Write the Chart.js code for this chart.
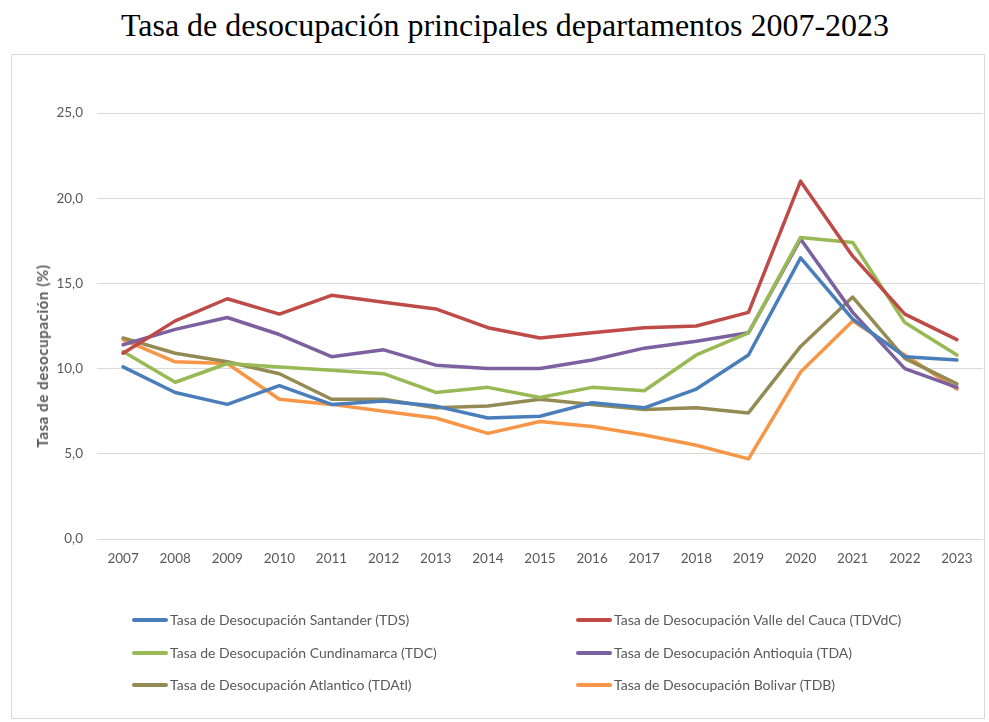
<!DOCTYPE html>
<html lang="es">
<head>
<meta charset="utf-8">
<title>Tasa de desocupación principales departamentos 2007-2023</title>
<script src="https://cdn.jsdelivr.net/npm/chart.js@4.4.0/dist/chart.umd.min.js"></script>
<style>
    body { margin: 0; background: #fff; width: 989px; height: 722px; position: relative; overflow: hidden; }
    #titulo {
        position: absolute; left: 0; top: 7px; width: 1010px; text-align: center;
        font-family: "Liberation Serif", "Times New Roman", serif; font-size: 32px; color: #000;
    }
    #marco {
        position: absolute; left: 11px; top: 54px; width: 974px; height: 665px;
        border: 1px solid #d9d9d9; box-sizing: border-box;
    }
    #grafico { position: absolute; left: 0; top: 0; }
    #titulo-y {
        position: absolute; left: 42px; top: 356px; transform: translate(-50%, -50%) rotate(-90deg);
        font-family: Lato, sans-serif; font-weight: bold; font-size: 15px; letter-spacing: 0.6px;
        color: #595959; white-space: nowrap;
    }
    .leyenda {
        position: absolute; font-family: Lato, sans-serif; font-size: 14px; color: #595959;
        display: flex; align-items: center; white-space: nowrap;
    }
    .leyenda span.linea { display: inline-block; width: 36px; height: 4px; border-radius: 2px; margin-right: 2px; }
</style>
</head>
<body>
<div id="titulo">Tasa de desocupación principales departamentos 2007-2023</div>
<div id="marco"></div>
<canvas id="grafico" width="989" height="722"></canvas>
<div id="titulo-y">Tasa de desocupación (%)</div>
<div id="leyendas"></div>
<script>
// Datos del gráfico
const anios = ['2007', '2008', '2009', '2010', '2011', '2012', '2013', '2014', '2015',
               '2016', '2017', '2018', '2019', '2020', '2021', '2022', '2023'];
const santander     = [10.1, 8.6, 7.9, 9.0, 7.9, 8.1, 7.8, 7.1, 7.2, 8.0, 7.7, 8.8, 10.8, 16.5, 12.9, 10.7, 10.5];
const valle         = [10.9, 12.8, 14.1, 13.2, 14.3, 13.9, 13.5, 12.4, 11.8, 12.1, 12.4, 12.5, 13.3, 21.0, 16.6, 13.2, 11.7];
const cundinamarca  = [11.0, 9.2, 10.3, 10.1, 9.9, 9.7, 8.6, 8.9, 8.3, 8.9, 8.7, 10.8, 12.1, 17.7, 17.4, 12.7, 10.8];
const antioquia     = [11.4, 12.3, 13.0, 12.0, 10.7, 11.1, 10.2, 10.0, 10.0, 10.5, 11.2, 11.6, 12.1, 17.6, 13.3, 10.0, 8.9];
const atlantico     = [11.8, 10.9, 10.4, 9.7, 8.2, 8.2, 7.7, 7.8, 8.2, 7.9, 7.6, 7.7, 7.4, 11.3, 14.2, 10.6, 9.1];
const bolivar       = [11.7, 10.4, 10.3, 8.2, 7.9, 7.5, 7.1, 6.2, 6.9, 6.6, 6.1, 5.5, 4.7, 9.8, 12.8, 10.8, 8.8];
const ticksY = [0, 5, 10, 15, 20, 25];

const series = [
    { label: 'Tasa de Desocupación Santander (TDS)', data: santander, color: '#4a7ebb' },
    { label: 'Tasa de Desocupación Valle del Cauca (TDVdC)', data: valle, color: '#be4b48' },
    { label: 'Tasa de Desocupación Cundinamarca (TDC)', data: cundinamarca, color: '#98b954' },
    { label: 'Tasa de Desocupación Antioquia (TDA)', data: antioquia, color: '#7d60a0' },
    { label: 'Tasa de Desocupación Atlantico (TDAtl)', data: atlantico, color: '#948a54' },
    { label: 'Tasa de Desocupación Bolivar (TDB)', data: bolivar, color: '#f79646' }
];

// Leyenda en dos columnas, como en el original
const posLeyenda = [[132, 620], [576, 620], [132, 653], [576, 653], [132, 685], [576, 685]];
series.forEach((s, i) => {
    const div = document.createElement('div');
    div.className = 'leyenda';
    div.style.left = posLeyenda[i][0] + 'px';
    div.style.top = (posLeyenda[i][1] - 9) + 'px';
    div.innerHTML = '<span class="linea" style="background:' + s.color + '"></span>' + s.label;
    document.getElementById('leyendas').appendChild(div);
});

const ctx = document.getElementById('grafico').getContext('2d');
const chart = new Chart(ctx, {
    type: 'line',
    data: {
        labels: anios,
        datasets: series.map(s => ({
            label: s.label,
            data: s.data,
            borderColor: s.color,
            backgroundColor: s.color,
            borderWidth: 3.5,
            pointRadius: 0,
            tension: 0,
            borderJoinStyle: 'round',
            borderCapStyle: 'round'
        }))
    },
    options: {
        responsive: false,
        animation: false,
        layout: { padding: { top: 113, right: 6, left: 0, bottom: 0 } },
        plugins: {
            legend: { display: false },
            title: { display: false },
            tooltip: { enabled: false }
        },
        scales: {
            x: {
                offset: true,
                grid: { display: false, drawTicks: false },
                border: { display: false },
                ticks: { color: '#595959', font: { family: 'Lato', size: 13.5 }, padding: 12, maxRotation: 0 },
                afterFit: (scale) => { scale.height = 183; }
            },
            y: {
                min: 0,
                max: 25,
                grid: { color: '#d9d9d9', lineWidth: 1, drawTicks: false },
                border: { display: false },
                afterBuildTicks: (scale) => { scale.ticks = ticksY.map(v => ({ value: v })); },
                ticks: {
                    color: '#595959', font: { family: 'Lato', size: 13.5 }, padding: 14,
                    callback: (v) => v.toFixed(1).replace('.', ',')
                },
                afterFit: (scale) => { scale.width = 97; }
            }
        }
    }
});
</script>
</body>
</html>
